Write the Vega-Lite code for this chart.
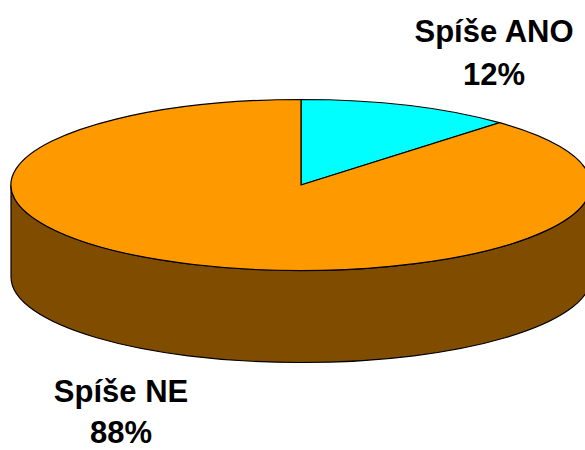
{
  "$schema": "https://vega.github.io/schema/vega-lite/v6.json",
  "width": 568,
  "height": 370,
  "padding": {"left": 17, "top": 0, "right": 0, "bottom": 80},
  "autosize": {"type": "none"},
  "background": "white",
  "config": {"view": {"stroke": null}},
  "data": {
    "values": [
      {"answer": "Spíše ANO", "share": 0.12},
      {"answer": "Spíše NE", "share": 0.88}
    ]
  },
  "layer": [
    {
      "description": "Visible rim of the tilted pie (front of the larger slice)",
      "transform": [{"filter": "datum.answer === 'Spíše NE'"}],
      "mark": {
        "type": "point",
        "filled": true,
        "opacity": 1,
        "size": 4,
        "color": "#804C00",
        "stroke": "#000000",
        "strokeWidth": 1.2,
        "shape": "M-290,0 L-290,92 A290,85.5 0 0,0 290,92 L290,0 A290,85.5 0 0,1 -290,0 Z"
      },
      "encoding": {}
    },
    {
      "description": "Top face: one elliptical sector per answer; the 12% sector spans 43.2 degrees clockwise from twelve o'clock",
      "mark": {
        "type": "point",
        "filled": true,
        "opacity": 1,
        "size": 4,
        "stroke": "#000000",
        "strokeWidth": 1.2
      },
      "encoding": {
        "color": {
          "field": "answer",
          "type": "nominal",
          "scale": {"domain": ["Spíše ANO", "Spíše NE"], "range": ["#00FFFF", "#FF9900"]},
          "legend": null
        },
        "shape": {
          "field": "answer",
          "type": "nominal",
          "scale": {
            "domain": ["Spíše ANO", "Spíše NE"],
            "range": [
              "M0,0 L0,-85.5 A290,85.5 0 0,1 198.5,-62.3 Z",
              "M0,0 L198.5,-62.3 A290,85.5 0 1,1 0,-85.5 Z"
            ]
          },
          "legend": null
        }
      }
    },
    {
      "transform": [{"filter": "datum.answer === 'Spíše ANO'"}],
      "mark": {"type": "text", "font": "Liberation Sans", "fontWeight": "bold", "fontSize": 31, "align": "center", "baseline": "alphabetic", "dx": 193, "dy": -143},
      "encoding": {"text": {"field": "answer", "type": "nominal"}}
    },
    {
      "transform": [{"filter": "datum.answer === 'Spíše ANO'"}],
      "mark": {"type": "text", "font": "Liberation Sans", "fontWeight": "bold", "fontSize": 31, "align": "center", "baseline": "alphabetic", "dx": 193, "dy": -100},
      "encoding": {"text": {"field": "share", "type": "quantitative", "format": ".0%"}}
    },
    {
      "transform": [{"filter": "datum.answer === 'Spíše NE'"}],
      "mark": {"type": "text", "font": "Liberation Sans", "fontWeight": "bold", "fontSize": 31, "align": "center", "baseline": "alphabetic", "dx": -180, "dy": 217},
      "encoding": {"text": {"field": "answer", "type": "nominal"}}
    },
    {
      "transform": [{"filter": "datum.answer === 'Spíše NE'"}],
      "mark": {"type": "text", "font": "Liberation Sans", "fontWeight": "bold", "fontSize": 31, "align": "center", "baseline": "alphabetic", "dx": -180, "dy": 258},
      "encoding": {"text": {"field": "share", "type": "quantitative", "format": ".0%"}}
    }
  ]
}
